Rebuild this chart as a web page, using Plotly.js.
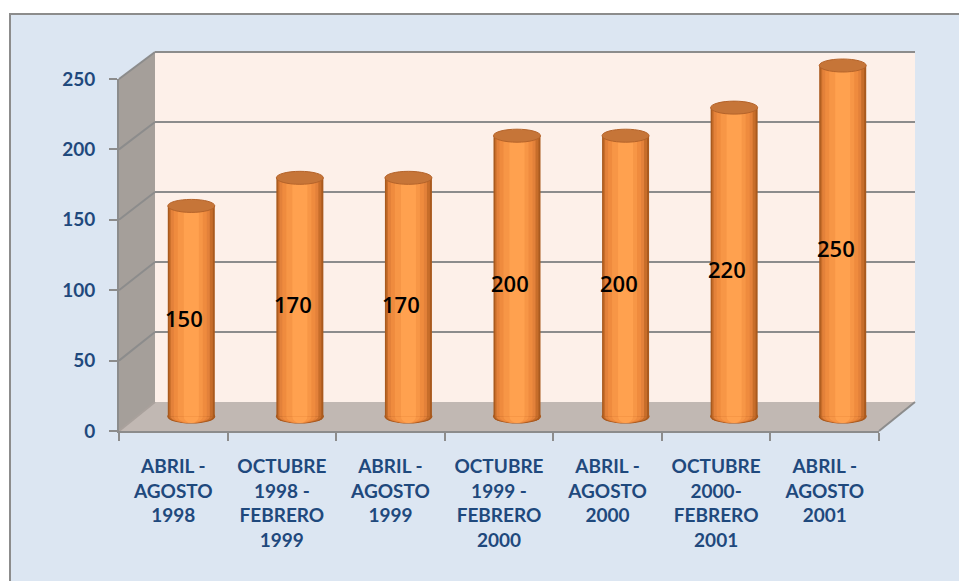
<!DOCTYPE html>
<html><head><meta charset="utf-8">
<script src="https://cdn.plot.ly/plotly-3.0.1.min.js"></script>
<style>html,body{margin:0;padding:0;background:#fff}#chart{width:959px;height:581px}</style>
</head><body><div id="chart"></div>
<script>
// ---- data ----
const categories = [
  'ABRIL -<br>AGOSTO<br>1998',
  'OCTUBRE<br>1998 -<br>FEBRERO<br>1999',
  'ABRIL -<br>AGOSTO<br>1999',
  'OCTUBRE<br>1999 -<br>FEBRERO<br>2000',
  'ABRIL -<br>AGOSTO<br>2000',
  'OCTUBRE<br>2000-<br>FEBRERO<br>2001',
  'ABRIL -<br>AGOSTO<br>2001'
];
const values = [150, 170, 170, 200, 200, 220, 250];
const yTicks = [0, 50, 100, 150, 200, 250];

// ---- geometry (pixels) ----
const W = 959, H = 581;
const px = x => x / W, py = y => 1 - y / H;
const FRONT = {x0: 119, x1: 879, y0: 431, y1: 79};
const MID   = {x0: 137, x1: 897, y0: 416.5, y1: 65.5};
const BACK  = {x0: 155, x1: 915, y0: 402, y1: 52};
const YMAX = 250;
const PAD = 12; // extra value units around the bar plane so caps are not clipped
const midScale = (MID.y0 - MID.y1) / YMAX;
const unit = (MID.x1 - MID.x0) / categories.length;
const CW = 47, HW = CW / 2, EH = 6.5;

const stripes = [
  [0, 47, '#a95a1e'],
  [1.5, 45, '#c76d2a'],
  [3, 42, '#e3813a'],
  [6, 39, '#ef8b3e'],
  [10, 35, '#f79646'],
  [16, 31, '#ffa14f']
];

const grey = '#8c8c8c';
const tickFont = {family: 'Lato', size: 19, color: '#1f497d', weight: 700};

const traces = [];
traces.push({type: 'scatter', mode: 'markers', x: categories, y: values, xaxis: 'x', yaxis: 'y',
  marker: {opacity: 0}, hoverinfo: 'skip'});
traces.push({type: 'scatter', mode: 'markers', x: [0], y: [0], xaxis: 'x2', yaxis: 'y2',
  marker: {opacity: 0}, hoverinfo: 'skip'});
stripes.forEach(s => {
  traces.push({type: 'bar', x: categories, y: values, xaxis: 'x3', yaxis: 'y3',
    width: (s[1] - s[0]) / unit, offset: (s[0] - HW) / unit,
    marker: {color: s[2], line: {width: 0}}, hoverinfo: 'skip'});
});

const shapes = [];
shapes.push({type: 'rect', xref: 'paper', yref: 'paper', x0: px(10), x1: px(990), y0: py(610), y1: py(14),
  fillcolor: '#dce6f2', line: {color: grey, width: 2}, layer: 'below'});
shapes.push({type: 'rect', xref: 'paper', yref: 'paper', x0: px(BACK.x0), x1: px(BACK.x1), y0: py(BACK.y0), y1: py(BACK.y1),
  fillcolor: '#fdf0e9', line: {width: 0}, layer: 'below'});
const P = (x, y) => px(x) + ',' + py(y);
shapes.push({type: 'path', xref: 'paper', yref: 'paper',
  path: 'M' + P(FRONT.x0, FRONT.y0) + ' L' + P(BACK.x0, BACK.y0) + ' L' + P(BACK.x0, BACK.y1) + ' L' + P(FRONT.x0, FRONT.y1) + ' Z',
  fillcolor: '#a59f9a', line: {width: 0}, layer: 'below'});
shapes.push({type: 'path', xref: 'paper', yref: 'paper',
  path: 'M' + P(FRONT.x0, FRONT.y0) + ' L' + P(FRONT.x1, FRONT.y0) + ' L' + P(BACK.x1, BACK.y0) + ' L' + P(BACK.x0, BACK.y0) + ' Z',
  fillcolor: '#c1b8b3', line: {width: 0}, layer: 'below'});
yTicks.forEach(v => {
  const fy = FRONT.y0 - v * (FRONT.y0 - FRONT.y1) / YMAX;
  const by = BACK.y0 - v * (BACK.y0 - BACK.y1) / YMAX;
  shapes.push({type: 'line', xref: 'paper', yref: 'paper', x0: px(FRONT.x0), y0: py(fy), x1: px(BACK.x0), y1: py(by),
    line: {color: v === 0 ? '#a9a19c' : grey, width: 2}, layer: 'below'});
});
shapes.push({type: 'line', xref: 'paper', yref: 'paper', x0: px(BACK.x0), y0: py(BACK.y1), x1: px(BACK.x1), y1: py(BACK.y1),
  line: {color: grey, width: 2}, layer: 'below'});
shapes.push({type: 'line', xref: 'paper', yref: 'paper', x0: px(FRONT.x1), y0: py(FRONT.y0), x1: px(BACK.x1), y1: py(BACK.y0),
  line: {color: grey, width: 2}, layer: 'below'});

// cylinder bottoms (layered ellipses under the bars) and tops
const arc = x => EH * Math.sqrt(Math.max(0, 1 - (x / HW) * (x / HW)));
values.forEach((v, i) => {
  shapes.push({type: 'circle', xref: 'x3', yref: 'y3', xsizemode: 'pixel', ysizemode: 'pixel',
    xanchor: i, yanchor: 0, x0: -HW - 0.5, x1: HW + 0.5, y0: -EH - 0.5, y1: EH + 0.5,
    fillcolor: '#a9561b', line: {width: 0}, layer: 'between'});
  stripes.forEach(s => {
    const a = s[0] - HW, b = s[1] - HW, c = (a + b) / 2;
    const h = arc(c);
    shapes.push({type: 'circle', xref: 'x3', yref: 'y3', xsizemode: 'pixel', ysizemode: 'pixel',
      xanchor: i, yanchor: 0, x0: a, x1: b, y0: -h, y1: h,
      fillcolor: s[2], line: {width: 0}, layer: 'between'});
  });
  shapes.push({type: 'circle', xref: 'x3', yref: 'y3', xsizemode: 'pixel', ysizemode: 'pixel',
    xanchor: i, yanchor: v, x0: -HW, x1: HW, y0: -EH, y1: EH,
    fillcolor: '#c67538', line: {color: '#b4632a', width: 1}, layer: 'above'});
});

const annotations = values.map((v, i) => ({
  xref: 'x3', yref: 'y3', x: i, y: v / 2, text: String(v), showarrow: false,
  xshift: -7, yshift: -7, font: {family: 'Open Sans', size: 22, color: '#000000', weight: 600}
}));

const layout = {
  width: W, height: H,
  margin: {l: 0, r: 0, t: 0, b: 0, pad: 0},
  paper_bgcolor: '#ffffff', plot_bgcolor: 'rgba(0,0,0,0)',
  showlegend: false, barmode: 'overlay',
  xaxis: {domain: [px(FRONT.x0), px(FRONT.x1)], anchor: 'y', type: 'category',
    categoryorder: 'array', categoryarray: categories, range: [-0.5, categories.length - 0.5],
    tickson: 'boundaries', ticks: 'outside', ticklen: 8, tickwidth: 2, tickcolor: grey,
    showline: true, linecolor: grey, linewidth: 2, showgrid: false, zeroline: false,
    tickfont: tickFont, ticklabelstandoff: 17, automargin: false, fixedrange: true},
  yaxis: {domain: [py(FRONT.y0), py(FRONT.y1)], anchor: 'x', range: [0, YMAX],
    tickvals: yTicks, ticks: 'outside', ticklen: 8, tickwidth: 2, tickcolor: grey,
    showline: true, linecolor: grey, linewidth: 2, showgrid: false, zeroline: false,
    tickfont: tickFont, ticklabelstandoff: 10, automargin: false, fixedrange: true},
  xaxis2: {domain: [px(BACK.x0), px(BACK.x1)], anchor: 'y2', range: [0, 1], visible: false},
  yaxis2: {domain: [py(BACK.y0), py(BACK.y1)], anchor: 'x2', range: [0, YMAX],
    tickvals: yTicks, showgrid: true, gridcolor: grey, gridwidth: 2, zeroline: false,
    showticklabels: false, ticks: '', showline: false},
  xaxis3: {domain: [px(MID.x0), px(MID.x1)], anchor: 'y3', type: 'category',
    categoryorder: 'array', categoryarray: categories, range: [-0.5, categories.length - 0.5], visible: false},
  yaxis3: {domain: [py(MID.y0 + PAD * midScale), py(MID.y1 - PAD * midScale)], anchor: 'x3',
    range: [-PAD, YMAX + PAD], visible: false},
  shapes: shapes,
  annotations: annotations
};

Plotly.newPlot('chart', traces, layout, {staticPlot: true, displayModeBar: false});
</script>
</body></html>
